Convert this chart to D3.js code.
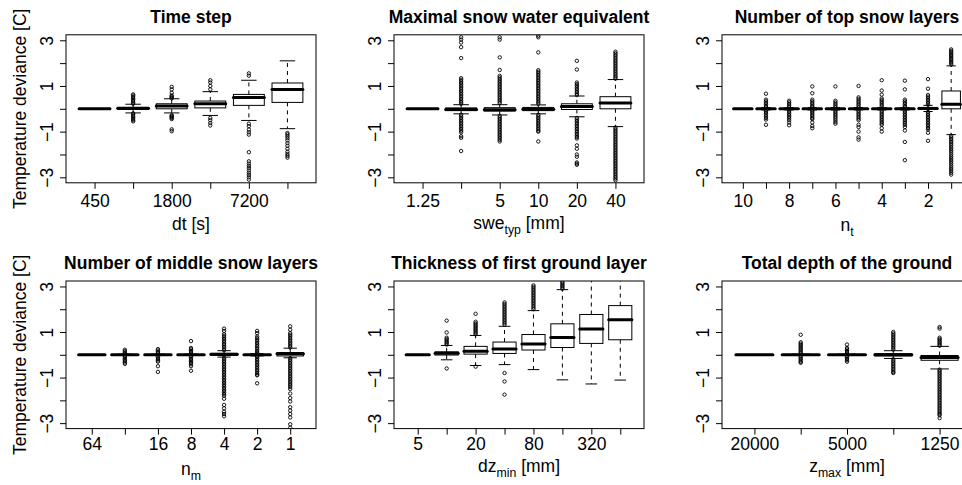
<!DOCTYPE html>
<html><head><meta charset="utf-8">
<script src="https://cdn.jsdelivr.net/npm/d3@7"></script>
<style>
html,body{margin:0;padding:0;background:#fff;}
svg text{font-family:"Liberation Sans",Arial,Helvetica,sans-serif;fill:#000;}
</style></head><body>
<svg id="chart" width="962" height="485"></svg>
<script>
// ---------------- DATA ----------------
const panelTitles = ["Time step","Maximal snow water equivalent","Number of top snow layers",
  "Number of middle snow layers","Thickness of first ground layer","Total depth of the ground"];
const yAxisTitle = "Temperature deviance [C]";
const yTickValues = [-3,-2,-1,0,1,2,3];
const yTickLabels = ["\u22123","","\u22121","","1","","3"];

const xLabelMain = ["dt [s]","swe","n","n","dz","z"];
const xLabelSub  = ["","typ","t","m","min","max"];
const xLabelTail = [""," [mm]","",""," [mm]"," [mm]"];

// Panel 1: time step
const dtCategories = ["450","900","1800","3600","7200","14400"];
const dtTickLabels = ["450","","1800","","7200",""];
// [lower whisker, Q1, median, Q3, upper whisker]
const dtStats = [[0,0,0,0,0],[-0.18,-0.03,0.02,0.05,0.20],[-0.18,0.00,0.12,0.22,0.44],
  [-0.29,0.04,0.22,0.34,0.75],[-0.51,0.15,0.50,0.63,1.25],[-0.87,0.28,0.84,1.13,2.10]];
const dtOutliers = [
  [],
  [0.63,0.58,0.52,0.46,0.40,0.34,0.28,0.22,-0.20,-0.26,-0.32,-0.38,-0.44,-0.50,-0.55],
  [0.96,0.85,0.70,0.58,0.54,0.50,0.46,-0.28,-0.32,-0.36,-0.40,-0.45,-0.90,-0.98],
  [1.25,1.15,1.00,0.85,-0.40,-0.50,-0.62,-0.73],
  [1.55,1.45,-0.65,-0.76,-0.91,-1.03,-1.13,-1.90,-2.30,-2.40,-2.50,-2.60,-2.70,-2.80,-2.90,-3.00,-3.10],
  [-1.06,-1.12,-1.20,-1.28,-1.38,-1.50,-1.62,-1.75,-1.88,-1.98,-2.06,-2.14]
];

// Panel 2: maximal snow water equivalent
const sweCategories = ["1.25","2.5","5","10","20","40"];
const sweTickLabels = ["1.25","","5","10","20","40"];
const sweStats = [[0,0,0,0,0],[-0.22,-0.08,-0.03,0.04,0.18],[-0.27,-0.10,-0.04,0.05,0.18],
  [-0.22,-0.08,-0.02,0.06,0.17],[-0.35,-0.03,0.10,0.22,0.56],[-0.78,0.00,0.25,0.53,1.28]];
const sweOutliers = [
  [],
  [3.13,3.03,2.90,2.70,2.22,1.34,1.27,1.20,1.13,1.06,0.99,0.92,0.85,0.78,0.71,0.64,0.57,0.50,0.43,0.36,0.29,0.22,
   -0.26,-0.33,-0.40,-0.47,-0.54,-0.61,-0.68,-0.75,-0.82,-0.89,-0.96,-1.03,-1.20,-1.27,-1.85],
  [3.13,3.03,2.25,1.70,1.44,1.37,1.30,1.23,1.16,1.09,1.02,0.95,0.88,0.81,0.74,0.67,0.60,0.53,0.46,0.39,0.32,0.25,
   -0.31,-0.38,-0.45,-0.52,-0.59,-0.66,-0.73,-0.80,-0.87,-0.94,-1.01,-1.08,-1.15,-1.22,-1.29,-1.36,-1.43],
  [3.20,3.13,2.47,1.69,1.62,1.55,1.48,1.41,1.34,1.27,1.20,1.13,1.06,0.99,0.92,0.85,0.78,0.71,0.64,0.57,0.50,0.43,0.36,0.29,0.22,
   -0.26,-0.33,-0.40,-0.47,-0.54,-0.61,-0.68,-0.75,-0.82,-0.89,-0.96,-1.00,-1.43],
  [2.10,1.72,1.15,1.08,1.01,0.94,0.87,0.80,0.73,0.66,0.60,
   -0.40,-0.47,-0.54,-0.61,-0.68,-0.75,-0.82,-0.89,-0.96,-1.03,-1.10,-1.17,-1.24,-1.30,-1.60,-1.75,-2.00,-2.10,-2.35,-2.40,-2.45],
  [2.50,2.43,2.36,2.29,2.22,2.15,2.08,2.01,1.94,1.87,1.80,1.73,1.66,1.59,1.52,1.45,1.38,1.32,
   -0.82,-0.89,-0.96,-1.03,-1.10,-1.17,-1.24,-1.31,-1.38,-1.45,-1.52,-1.59,-1.66,-1.73,-1.80,-1.87,-1.94,-2.01,
   -2.08,-2.15,-2.22,-2.29,-2.36,-2.43,-2.50,-2.57,-2.64,-2.71,-2.78,-2.85,-2.92,-2.99,-3.06,-3.13]
];

// Panel 3: number of top snow layers
const ntCategories = ["10","9","8","7","6","5","4","3","2","1"];
const ntTickLabels = ["10","","8","","6","","4","","2",""];
const ntStats = [[0,0,0,0,0],[-0.05,-0.01,0,0.01,0.05],[-0.05,-0.01,0,0.01,0.05],[-0.05,-0.01,0,0.01,0.05],
  [-0.05,-0.01,0,0.01,0.05],[-0.05,-0.01,0,0.01,0.05],[-0.05,-0.01,0,0.01,0.05],[-0.05,-0.01,0,0.01,0.05],
  [-0.12,-0.02,0.01,0.06,0.15],[-1.13,0.00,0.20,0.78,1.88]];
const ntOutliers = [
  [],
  [0.66,0.40,0.33,0.26,0.19,0.12,0.07,-0.07,-0.12,-0.19,-0.26,-0.33,-0.40,-0.47,-0.70],
  [0.35,0.28,0.21,0.14,0.07,-0.07,-0.14,-0.21,-0.28,-0.35,-0.42,-0.50,-0.60,-0.72],
  [0.98,0.68,0.40,0.33,0.26,0.19,0.12,0.07,-0.07,-0.12,-0.19,-0.26,-0.33,-0.40,-0.45,-0.60,-0.75,-0.85],
  [0.98,0.35,0.28,0.21,0.14,0.07,-0.07,-0.14,-0.21,-0.28,-0.35,-0.42,-0.50,-0.58,-0.65],
  [1.00,0.50,0.43,0.36,0.29,0.22,0.15,0.08,-0.08,-0.15,-0.22,-0.29,-0.36,-0.43,-0.50,-0.70,-0.80,-1.00,-1.25,-1.35],
  [1.25,0.80,0.62,0.45,0.38,0.31,0.24,0.17,0.10,-0.08,-0.15,-0.22,-0.29,-0.36,-0.43,-0.50,-0.57,-0.64,-0.70,-0.85,-1.00],
  [1.23,0.85,0.40,0.33,0.26,0.19,0.12,0.07,-0.07,-0.14,-0.21,-0.28,-0.35,-0.42,-0.49,-0.56,-0.63,-0.70,-0.80,-0.95,-1.45,-2.25],
  [1.30,0.88,0.60,0.53,0.46,0.39,0.32,0.25,0.18,-0.14,-0.21,-0.28,-0.35,-0.42,-0.49,-0.56,-0.63,-0.70,-0.77,-0.84,-0.90,-1.05,-1.40],
  [2.60,2.54,2.48,2.42,2.36,2.30,2.24,2.18,2.12,2.06,2.00,1.94,
   -1.18,-1.25,-1.32,-1.39,-1.46,-1.53,-1.60,-1.68,-1.76,-1.84,-1.92,-2.00,-2.08,-2.16,-2.24,-2.32,-2.40,-2.48,-2.56,-2.64,-2.72,-2.80,-2.88]
];

// Panel 4: number of middle snow layers
const nmCategories = ["64","32","16","8","4","2","1"];
const nmTickLabels = ["64","","16","8","4","2","1"];
const nmStats = [[0,0,0,0,0],[-0.03,-0.01,0,0.01,0.03],[-0.03,-0.01,0,0.01,0.03],[-0.03,-0.01,0,0.01,0.03],
  [-0.10,-0.03,0.02,0.06,0.18],[-0.05,-0.01,0,0.01,0.05],[-0.13,-0.05,0.05,0.10,0.29]];
const nmOutliers = [
  [],
  [0.22,0.16,0.10,0.05,-0.05,-0.10,-0.16,-0.22,-0.28,-0.34,-0.40],
  [0.25,0.19,0.13,0.07,-0.07,-0.13,-0.19,-0.25,-0.30,-0.50,-0.75],
  [0.60,0.30,0.24,0.18,0.12,0.06,-0.06,-0.12,-0.18,-0.24,-0.30,-0.36,-0.42,-0.50,-0.70],
  [1.15,1.05,0.90,0.83,0.76,0.69,0.62,0.55,0.48,0.41,0.34,0.27,0.20,
   -0.12,-0.19,-0.26,-0.33,-0.40,-0.47,-0.54,-0.61,-0.68,-0.75,-0.82,-0.89,-0.96,-1.03,-1.10,-1.17,-1.24,-1.31,
   -1.38,-1.45,-1.52,-1.59,-1.66,-1.73,-1.80,-1.93,-2.20,-2.35,-2.50,-2.60,-2.70],
  [1.05,0.95,0.80,0.73,0.66,0.59,0.52,0.45,0.38,0.31,0.24,0.17,0.10,0.06,-0.06,-0.10,-0.17,-0.24,-0.31,-0.38,
   -0.45,-0.52,-0.59,-0.66,-0.73,-0.80,-0.87,-0.90,-1.25],
  [1.25,1.10,0.95,0.88,0.81,0.74,0.67,0.60,0.53,0.46,0.39,0.32,
   -0.15,-0.22,-0.29,-0.36,-0.43,-0.50,-0.57,-0.64,-0.71,-0.78,-0.85,-0.92,-0.99,-1.06,-1.13,-1.20,-1.27,-1.34,
   -1.41,-1.50,-1.70,-1.90,-2.05,-2.30,-2.45,-2.60,-2.75,-3.05,-3.20]
];

// Panel 5: thickness of first ground layer
const dzCategories = ["5","10","20","40","80","160","320","640"];
const dzTickLabels = ["5","","20","","80","","320",""];
const dzStats = [[0,0,0,0,0],[-0.22,-0.01,0.07,0.13,0.41],[-0.47,0.03,0.16,0.37,0.85],[-0.43,0.06,0.26,0.56,1.25],
  [-0.65,0.21,0.47,0.89,1.94],[-1.10,0.32,0.76,1.36,2.86],[-1.28,0.50,1.13,1.77,3.80],[-1.11,0.66,1.54,2.16,3.80]];
const dzOutliers = [
  [],
  [1.50,0.98,0.75,0.69,0.63,0.57,0.51,0.45,-0.60],
  [1.80,1.45,1.38,1.32,1.26,1.20,1.14,1.08,1.02,0.96,0.90,-0.52],
  [2.30,2.23,2.16,2.09,2.02,1.95,1.88,1.81,1.74,1.67,1.60,1.53,1.46,1.39,1.32,-0.80,-1.17,-1.75],
  [3.05,2.98,2.91,2.84,2.77,2.70,2.63,2.56,2.49,2.42,2.35,2.28,2.21,2.14,2.07,2.00],
  [3.20,3.14,3.08,3.02,2.96,2.90],
  [],
  []
];

// Panel 6: total depth of the ground
const zmaxCategories = ["20000","10000","5000","2500","1250"];
const zmaxTickLabels = ["20000","","5000","","1250"];
const zmaxStats = [[0,0,0,0,0],[-0.03,-0.01,0,0.01,0.03],[-0.03,-0.01,0,0.01,0.03],
  [-0.16,-0.05,0.00,0.05,0.18],[-0.62,-0.24,-0.12,-0.03,0.37]];
const zmaxOutliers = [
  [],
  [0.88,0.55,0.49,0.43,0.37,0.31,0.25,0.19,0.13,0.07,-0.07,-0.13,-0.19,-0.25,-0.31,-0.35],
  [0.45,0.30,0.24,0.18,0.12,0.06,-0.06,-0.12,-0.18,-0.24,-0.30],
  [1.00,0.93,0.86,0.79,0.72,0.65,0.58,0.51,0.44,0.37,0.30,0.23,
   -0.20,-0.27,-0.34,-0.41,-0.48,-0.55,-0.62,-0.69,-0.76,-0.80],
  [1.22,1.15,0.75,0.69,0.63,0.57,0.51,0.45,0.40,
   -0.65,-0.72,-0.79,-0.86,-0.93,-1.00,-1.07,-1.14,-1.21,-1.28,-1.35,-1.42,-1.49,-1.56,-1.63,-1.70,-1.77,
   -1.84,-1.91,-1.98,-2.05,-2.12,-2.19,-2.26,-2.33,-2.40,-2.47,-2.54,-2.60,-2.65,-2.78]
];

// ---------------- LAYOUT ----------------
const colLeft = [66, 394, 722];
const plotW = 250;
const rowTop = [34.8, 281];
const plotH = [148, 147.6];
const tickLabOffset = [24.2, 21.9];
const xLabBase = [229.5, 229, 231, 475, 472, 472];
const fs = 17.5;

const panels = [
  {cats: dtCategories, ticks: dtTickLabels, stats: dtStats, out: dtOutliers},
  {cats: sweCategories, ticks: sweTickLabels, stats: sweStats, out: sweOutliers},
  {cats: ntCategories, ticks: ntTickLabels, stats: ntStats, out: ntOutliers},
  {cats: nmCategories, ticks: nmTickLabels, stats: nmStats, out: nmOutliers},
  {cats: dzCategories, ticks: dzTickLabels, stats: dzStats, out: dzOutliers},
  {cats: zmaxCategories, ticks: zmaxTickLabels, stats: zmaxStats, out: zmaxOutliers}
];

const svg = d3.select("#chart");
svg.append("rect").attr("width",962).attr("height",485).attr("fill","#fff");
const defs = svg.append("defs");

panels.forEach((p, i) => {
  const col = i % 3, row = Math.floor(i / 3);
  const left = colLeft[col], top = rowTop[row], w = plotW, h = plotH[row];
  const n = p.cats.length;
  const x = d3.scaleLinear().domain([0.5 - 0.04*n, n + 0.5 + 0.04*n]).range([left, left + w]);
  const y = d3.scaleLinear().domain([-3.24, 3.24]).range([top + h, top]);

  defs.append("clipPath").attr("id", "clip" + i)
    .append("rect").attr("x", left).attr("y", top).attr("width", w).attr("height", h);

  const g = svg.append("g");
  const m = g.append("g").attr("clip-path", `url(#clip${i})`)
    .attr("stroke", "#000").attr("fill", "none");

  p.stats.forEach((s, j) => {
    const pos = j + 1;
    const cx = x(pos);
    const hw = x(pos + 0.4) - x(pos);
    const sw = hw / 2;
    const [lo, q1, med, q3, hi] = s;
    m.append("line").attr("x1", cx).attr("x2", cx).attr("y1", y(q3)).attr("y2", y(hi))
      .attr("stroke-width", 1).attr("stroke-dasharray", "4,4");
    m.append("line").attr("x1", cx).attr("x2", cx).attr("y1", y(q1)).attr("y2", y(lo))
      .attr("stroke-width", 1).attr("stroke-dasharray", "4,4");
    m.append("line").attr("x1", cx - sw).attr("x2", cx + sw).attr("y1", y(hi)).attr("y2", y(hi)).attr("stroke-width", 1);
    m.append("line").attr("x1", cx - sw).attr("x2", cx + sw).attr("y1", y(lo)).attr("y2", y(lo)).attr("stroke-width", 1);
    m.append("rect").attr("x", cx - hw).attr("y", y(q3)).attr("width", 2*hw)
      .attr("height", Math.max(0, y(q1) - y(q3))).attr("fill", "#fff").attr("stroke-width", 1);
    m.append("line").attr("x1", cx - hw).attr("x2", cx + hw).attr("y1", y(med)).attr("y2", y(med))
      .attr("stroke-width", 3).attr("stroke-linecap", "round");
    m.selectAll(null).data(p.out[j]).join("circle")
      .attr("cx", cx).attr("cy", d => y(d)).attr("r", 1.7).attr("stroke-width", 0.9);
  });

  g.append("rect").attr("x", left).attr("y", top).attr("width", w).attr("height", h)
    .attr("fill", "none").attr("stroke", "#000").attr("stroke-width", 1);

  const ya = g.append("g").attr("transform", `translate(${left},0)`)
    .call(d3.axisLeft(y).tickValues(yTickValues).tickSize(6)
      .tickFormat((d, k) => yTickLabels[k]));
  ya.select(".domain").remove();
  ya.selectAll(".tick line").attr("stroke", "#000");
  ya.selectAll(".tick text")
    .attr("x", 0).attr("y", 0).attr("dy", null)
    .attr("text-anchor", "middle")
    .attr("transform", "translate(-13,0) rotate(-90)")
    .attr("font-size", fs).attr("font-family", "Liberation Sans, Arial, sans-serif");

  const xa = g.append("g").attr("transform", `translate(0,${top + h})`)
    .call(d3.axisBottom(x).tickValues(d3.range(1, n + 1)).tickSize(6)
      .tickFormat((d, k) => p.ticks[k]));
  xa.select(".domain").remove();
  xa.selectAll(".tick line").attr("stroke", "#000");
  xa.selectAll(".tick text")
    .attr("y", tickLabOffset[row]).attr("dy", null)
    .attr("font-size", fs).attr("font-family", "Liberation Sans, Arial, sans-serif");

  g.append("text").attr("x", left + w/2).attr("y", top - 12.3)
    .attr("text-anchor", "middle").attr("font-size", fs).attr("font-weight", "bold")
    .text(panelTitles[i]);

  const xl = g.append("text").attr("x", left + w/2).attr("y", xLabBase[i])
    .attr("text-anchor", "middle").attr("font-size", fs);
  xl.append("tspan").text(xLabelMain[i]);
  if (xLabelSub[i]) {
    xl.append("tspan").attr("dy", 4.5).attr("font-size", 12.3).text(xLabelSub[i]);
    xl.append("tspan").attr("dy", -4.5).text(xLabelTail[i]);
  }

  if (col === 0) {
    g.append("text").attr("transform", `translate(25.5,${top + h/2}) rotate(-90)`)
      .attr("text-anchor", "middle").attr("font-size", fs).text(yAxisTitle);
  }
});
</script>
</body></html>
